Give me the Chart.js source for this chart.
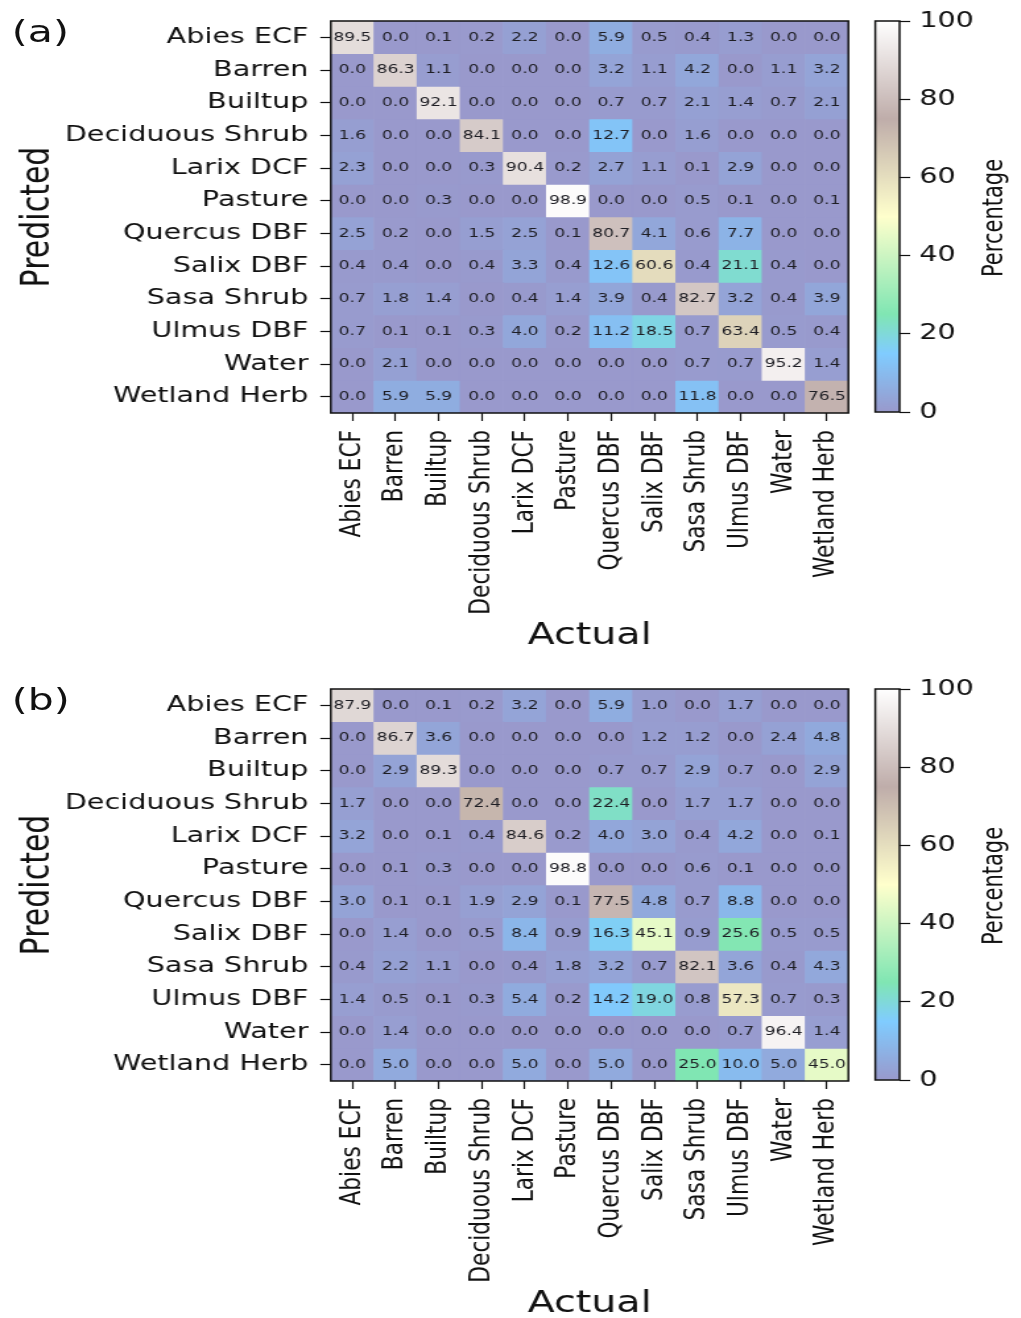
<!DOCTYPE html>
<html>
<head>
<meta charset="utf-8">
<script src="https://cdn.jsdelivr.net/npm/chart.js@4.4.0/dist/chart.umd.min.js"></script>
<style>
  html, body { margin: 0; padding: 0; background: #fff; overflow: hidden; }
  /* the figure is laid out narrow and then stretched sideways, like the source image */
  #figure {
    position: relative; width: 774px; height: 1318px;
    transform: scaleX(1.319); transform-origin: 0 0;
    font-family: "DejaVu Sans", sans-serif; color: #111;
  }
  #figure canvas { position: absolute; }
  .tag { position: absolute; font-size: 31px; line-height: 30px; }
  .cbar-title {
    position: absolute; width: 160px; height: 24px; line-height: 24px;
    font-size: 21px; text-align: center; transform: rotate(-90deg);
  }
</style>
</head>
<body>
<div id="figure">
  <div class="tag" style="left:9px; top:16px;">(a)</div>
  <canvas id="heat_a" width="650" height="652" style="left:0; top:2px;"></canvas>
  <canvas id="cbar_a" width="124" height="440" style="left:650px; top:2px;"></canvas>
  <div class="cbar-title" style="left:673px; top:206px;">Percentage</div>

  <div class="tag" style="left:9px; top:684px;">(b)</div>
  <canvas id="heat_b" width="650" height="652" style="left:0; top:670px;"></canvas>
  <canvas id="cbar_b" width="124" height="440" style="left:650px; top:670px;"></canvas>
  <div class="cbar-title" style="left:673px; top:874px;">Percentage</div>
</div>

<script>
const classLabels = [
  "Abies ECF", "Barren", "Builtup", "Deciduous Shrub", "Larix DCF", "Pasture",
  "Quercus DBF", "Salix DBF", "Sasa Shrub", "Ulmus DBF", "Water", "Wetland Herb"
];

// rows = predicted, columns = actual
const matrixA = [
  [89.5, 0.0, 0.1, 0.2, 2.2, 0.0, 5.9, 0.5, 0.4, 1.3, 0.0, 0.0],
  [0.0, 86.3, 1.1, 0.0, 0.0, 0.0, 3.2, 1.1, 4.2, 0.0, 1.1, 3.2],
  [0.0, 0.0, 92.1, 0.0, 0.0, 0.0, 0.7, 0.7, 2.1, 1.4, 0.7, 2.1],
  [1.6, 0.0, 0.0, 84.1, 0.0, 0.0, 12.7, 0.0, 1.6, 0.0, 0.0, 0.0],
  [2.3, 0.0, 0.0, 0.3, 90.4, 0.2, 2.7, 1.1, 0.1, 2.9, 0.0, 0.0],
  [0.0, 0.0, 0.3, 0.0, 0.0, 98.9, 0.0, 0.0, 0.5, 0.1, 0.0, 0.1],
  [2.5, 0.2, 0.0, 1.5, 2.5, 0.1, 80.7, 4.1, 0.6, 7.7, 0.0, 0.0],
  [0.4, 0.4, 0.0, 0.4, 3.3, 0.4, 12.6, 60.6, 0.4, 21.1, 0.4, 0.0],
  [0.7, 1.8, 1.4, 0.0, 0.4, 1.4, 3.9, 0.4, 82.7, 3.2, 0.4, 3.9],
  [0.7, 0.1, 0.1, 0.3, 4.0, 0.2, 11.2, 18.5, 0.7, 63.4, 0.5, 0.4],
  [0.0, 2.1, 0.0, 0.0, 0.0, 0.0, 0.0, 0.0, 0.7, 0.7, 95.2, 1.4],
  [0.0, 5.9, 5.9, 0.0, 0.0, 0.0, 0.0, 0.0, 11.8, 0.0, 0.0, 76.5]
];

const matrixB = [
  [87.9, 0.0, 0.1, 0.2, 3.2, 0.0, 5.9, 1.0, 0.0, 1.7, 0.0, 0.0],
  [0.0, 86.7, 3.6, 0.0, 0.0, 0.0, 0.0, 1.2, 1.2, 0.0, 2.4, 4.8],
  [0.0, 2.9, 89.3, 0.0, 0.0, 0.0, 0.7, 0.7, 2.9, 0.7, 0.0, 2.9],
  [1.7, 0.0, 0.0, 72.4, 0.0, 0.0, 22.4, 0.0, 1.7, 1.7, 0.0, 0.0],
  [3.2, 0.0, 0.1, 0.4, 84.6, 0.2, 4.0, 3.0, 0.4, 4.2, 0.0, 0.1],
  [0.0, 0.1, 0.3, 0.0, 0.0, 98.8, 0.0, 0.0, 0.6, 0.1, 0.0, 0.0],
  [3.0, 0.1, 0.1, 1.9, 2.9, 0.1, 77.5, 4.8, 0.7, 8.8, 0.0, 0.0],
  [0.0, 1.4, 0.0, 0.5, 8.4, 0.9, 16.3, 45.1, 0.9, 25.6, 0.5, 0.5],
  [0.4, 2.2, 1.1, 0.0, 0.4, 1.8, 3.2, 0.7, 82.1, 3.6, 0.4, 4.3],
  [1.4, 0.5, 0.1, 0.3, 5.4, 0.2, 14.2, 19.0, 0.8, 57.3, 0.7, 0.3],
  [0.0, 1.4, 0.0, 0.0, 0.0, 0.0, 0.0, 0.0, 0.0, 0.7, 96.4, 1.4],
  [0.0, 5.0, 0.0, 0.0, 5.0, 0.0, 5.0, 0.0, 25.0, 10.0, 5.0, 45.0]
];

const colorbarTicks = [0, 20, 40, 60, 80, 100];

// matplotlib "terrain", drawn at half opacity on white
const terrainStops = [
  [0.0, [0.2, 0.2, 0.6]],
  [0.15, [0.0, 0.6, 1.0]],
  [0.25, [0.0, 0.8, 0.4]],
  [0.5, [1.0, 1.0, 0.6]],
  [0.75, [0.5, 0.36, 0.33]],
  [1.0, [1.0, 1.0, 1.0]]
];
const cmapAlpha = 0.5;

const FONT = "DejaVu Sans";

window.onload = init;

function init() {
  drawHeatmap("heat_a", matrixA);
  drawColorbar("cbar_a");
  drawHeatmap("heat_b", matrixB);
  drawColorbar("cbar_b");
}

function blend(rgb) {
  let c = rgb.map((v) => Math.round(255 - cmapAlpha * (255 - v * 255)));
  return "rgb(" + c[0] + "," + c[1] + "," + c[2] + ")";
}

function cellColor(value) {
  let t = Math.min(Math.max(value / 100, 0), 1);
  for (let k = 1; k < terrainStops.length; k++) {
    let [t1, c1] = terrainStops[k];
    let [t0, c0] = terrainStops[k - 1];
    if (t <= t1) {
      let f = (t - t0) / (t1 - t0);
      return blend(c0.map((v, i) => v + f * (c1[i] - v)));
    }
  }
  return blend(terrainStops[terrainStops.length - 1][1]);
}

// box round the plot area, as matplotlib draws all four spines
const framePlugin = {
  id: "frame",
  afterDraw(chart) {
    let a = chart.chartArea;
    let ctx = chart.ctx;
    ctx.save();
    ctx.strokeStyle = "#111";
    ctx.lineWidth = 1.5;
    ctx.strokeRect(a.left, a.top, a.right - a.left, a.bottom - a.top);
    ctx.restore();
  },
};

function cellTextPlugin(matrix) {
  return {
    id: "cellText",
    afterDatasetsDraw(chart) {
      let ctx = chart.ctx;
      ctx.save();
      ctx.font = "13px '" + FONT + "'";
      ctx.fillStyle = "#1e1e24";
      ctx.textAlign = "center";
      ctx.textBaseline = "middle";
      matrix.forEach((row, i) => {
        chart.getDatasetMeta(i).data.forEach((bar, j) => {
          ctx.fillText(row[j].toFixed(1), bar.x, (bar.y + bar.base) / 2);
        });
      });
      ctx.restore();
    },
  };
}

function noEdgePadding(scale) {
  scale.paddingLeft = 0;
  scale.paddingRight = 0;
  scale.paddingTop = 0;
  scale.paddingBottom = 0;
}

function drawHeatmap(id, matrix) {
  // one floating-bar dataset per predicted row, spanning [row, row + 1]
  let datasets = matrix.map((row, i) => ({
    label: classLabels[i],
    data: row.map(() => [i, i + 1]),
    backgroundColor: row.map((v) => cellColor(v)),
    borderWidth: 0,
    barPercentage: 1,
    categoryPercentage: 1,
    grouped: false,
  }));

  new Chart(document.getElementById(id), {
    type: "bar",
    data: { labels: classLabels, datasets: datasets },
    options: {
      responsive: false,
      animation: false,
      layout: { padding: { left: 0, top: 19, right: 6.8, bottom: 0 } },
      plugins: { legend: { display: false }, tooltip: { enabled: false } },
      scales: {
        x: {
          type: "category",
          offset: true,
          grid: {
            offset: false,
            drawOnChartArea: false,
            tickLength: 8,
            tickColor: "#111",
            tickWidth: 1.2,
          },
          border: { display: false },
          ticks: {
            autoSkip: false,
            minRotation: 90,
            maxRotation: 90,
            padding: 9,
            color: "#111",
            font: { family: FONT, size: 21.7 },
          },
          title: {
            display: true,
            text: "Actual",
            color: "#111",
            padding: { top: 0, bottom: 0 },
            font: { family: FONT, size: 30 },
          },
          afterFit: (scale) => {
            scale.height = 241;
            noEdgePadding(scale);
          },
        },
        y: {
          type: "linear",
          min: 0,
          max: classLabels.length,
          reverse: true,
          grid: {
            drawOnChartArea: false,
            tickLength: 8,
            tickColor: "#111",
            tickWidth: 1.2,
          },
          border: { display: false },
          afterBuildTicks: (scale) => {
            scale.ticks = classLabels.map((l, i) => ({ value: i + 0.5 }));
          },
          ticks: {
            autoSkip: false,
            padding: 9,
            color: "#111",
            font: { family: FONT, size: 21.7 },
            callback: (value, index) => classLabels[index],
          },
          title: {
            display: true,
            text: "Predicted",
            color: "#111",
            padding: { top: 11, bottom: 0 },
            font: { family: FONT, size: 30 },
          },
          afterFit: (scale) => {
            scale.width = 250.8;
            noEdgePadding(scale);
          },
        },
      },
    },
    plugins: [cellTextPlugin(matrix), framePlugin],
  });
}

function drawColorbar(id) {
  let lo = colorbarTicks[0];
  let hi = colorbarTicks[colorbarTicks.length - 1];

  new Chart(document.getElementById(id), {
    type: "bar",
    data: {
      labels: ["Percentage"],
      datasets: [
        {
          data: [[lo, hi]],
          borderWidth: 0,
          barPercentage: 1,
          categoryPercentage: 1,
          backgroundColor: (ctx) => {
            let chart = ctx.chart;
            if (!chart.chartArea) return null;
            let y = chart.scales.y;
            let g = chart.ctx.createLinearGradient(0, y.getPixelForValue(lo), 0, y.getPixelForValue(hi));
            terrainStops.forEach((s) => g.addColorStop(s[0], blend(s[1])));
            return g;
          },
        },
      ],
    },
    options: {
      responsive: false,
      animation: false,
      layout: { padding: { left: 13.6, top: 19, right: 0, bottom: 30 } },
      plugins: { legend: { display: false }, tooltip: { enabled: false } },
      scales: {
        x: { display: false },
        y: {
          position: "right",
          min: lo,
          max: hi,
          grid: {
            drawOnChartArea: false,
            tickLength: 8,
            tickColor: "#111",
            tickWidth: 1.2,
          },
          border: { display: false },
          afterBuildTicks: (scale) => {
            scale.ticks = colorbarTicks.map((v) => ({ value: v }));
          },
          ticks: {
            padding: 7,
            color: "#111",
            font: { family: FONT, size: 21.7 },
          },
          afterFit: (scale) => {
            scale.width = 92;
            noEdgePadding(scale);
          },
        },
      },
    },
    plugins: [framePlugin],
  });
}
</script>
</body>
</html>
